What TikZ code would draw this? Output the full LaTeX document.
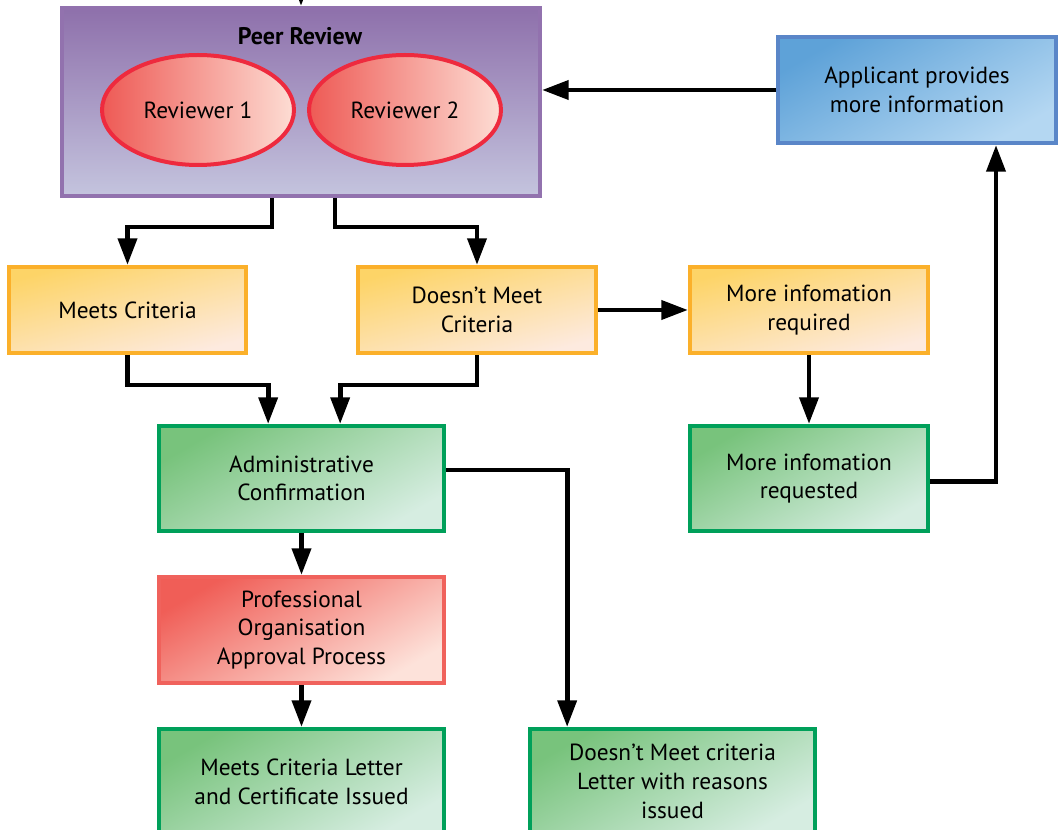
\documentclass[tikz,border=0pt]{standalone}
\usepackage{fontspec}
\setmainfont{PT Sans}
\usepackage{xcolor}
\usepackage{tikz}
\usetikzlibrary{arrows,calc,arrows.meta,shapes.geometric}
\definecolor{purpA}{HTML}{8E70AB}
\definecolor{purpB}{HTML}{C4C4DE}
\definecolor{purpL}{HTML}{9272AE}
\definecolor{redA}{HTML}{EE5A55}
\definecolor{redB}{HTML}{FDDDD4}
\definecolor{redL}{HTML}{EE2A3E}
\definecolor{orA}{HTML}{FDD467}
\definecolor{orB}{HTML}{FDEADF}
\definecolor{orL}{HTML}{FBB02A}
\definecolor{grA}{HTML}{78C37C}
\definecolor{grB}{HTML}{D6EDE1}
\definecolor{grL}{HTML}{00A05A}
\definecolor{prA}{HTML}{F05E57}
\definecolor{prB}{HTML}{FDE2DA}
\definecolor{prL}{HTML}{F0625C}
\definecolor{blA}{HTML}{5EA2D8}
\definecolor{blB}{HTML}{B4D7F2}
\definecolor{blL}{HTML}{5A86C8}
\tikzset{Box/.style={rectangle,line width=3pt,align=center,inner sep=2pt,font=\fontsize{17.5}{21.5}\selectfont},
  Org/.style={Box,draw=orL,top color=orA,bottom color=orB,shading angle=15,minimum width=178pt,minimum height=64.5pt},
  Grn/.style={Box,draw=grL,top color=grA,bottom color=grB,shading angle=30,minimum width=213.75pt,minimum height=78.75pt},
  Rd/.style={Box,draw=prL,top color=prA,bottom color=prB,shading angle=30,minimum width=213.75pt,minimum height=79.5pt},
  Blu/.style={Box,draw=blL,top color=blA,bottom color=blB,shading angle=30,minimum width=208.5pt,minimum height=79.5pt},
  Rev/.style={ellipse,line width=3pt,draw=redL,left color=redA,right color=redB,inner sep=0pt,minimum width=144pt,minimum height=82.5pt,font=\fontsize{17.5}{21.5}\selectfont},
  Arr/.style={line width=3.6pt,-{Triangle[length=20pt,width=14pt]}}}

\begin{document}
\begin{tikzpicture}[x=0.75pt,y=-0.75pt]
    \useasboundingbox (0,0) rectangle (1058,830);
    \node[rectangle,line width=3pt,draw=purpL,top color=purpA,bottom color=purpB,minimum width=358.5pt,minimum height=141pt] (peer) at (301,102) {};
    \node[font=\fontsize{18}{21}\selectfont\bfseries] (peertitle) at (300,36) {Peer Review};
    \node[Rev] (rev1) at (198,110) {Reviewer 1};
    \node[Rev] (rev2) at (405,110) {Reviewer 2};
    \node[Blu] (appl) at (917,90) {Applicant provides\\more information};
    \node[Org] (crit1) at (127.5,310) {Meets Criteria};
    \node[Org] (crit2) at (477,310) {Doesn't Meet\\Criteria};
    \node[Org,minimum width=178.5pt] (info1) at (809,310) {More infomation\\required};
    \node[Grn] (admin) at (301.5,478.5) {Administrative\\Confirmation};
    \node[Grn,minimum width=178.5pt] (info2) at (809,478.5) {More infomation\\requested};
    \node[Rd] (prof) at (301.5,630) {Professional\\Organisation\\Approval Process};
    \node[Grn] (letter1) at (301.5,781.5) {Meets Criteria Letter\\and Certificate Issued};
    \node[Grn] (letter2) at (672.5,781.5) {Doesn't Meet criteria\\Letter with reasons\\issued};
    \coordinate (entry) at (301,-60);
    \begin{scope}[Arr]
      \draw (entry) -- (peer.north);
      \draw ([xshift=-21.75pt]peer.south) -- ++(0,29) -| (crit1.north);
      \draw ([xshift=25.5pt]peer.south) -- ++(0,29) -| (crit2.north);
      \draw (crit2.east) -- (info1.west);
      \draw (crit1.south) -- ++(0,30) -| ([xshift=-25pt]admin.north);
      \draw (crit2.south) -- ++(0,30) -| ([xshift=29pt]admin.north);
      \draw (admin.south) -- (prof.north);
      \draw (prof.south) -- (letter1.north);
      \draw ([yshift=6.4pt]admin.east) -| ([xshift=-79pt]letter2.north);
      \draw (info1.south) -- (info2.north);
      \draw ([yshift=-2pt]info2.east) -| ([xshift=59.25pt]appl.south);
      \draw (appl.west) -- (appl.west -| peer.east);
    \end{scope}
  \end{tikzpicture}
\end{document}
